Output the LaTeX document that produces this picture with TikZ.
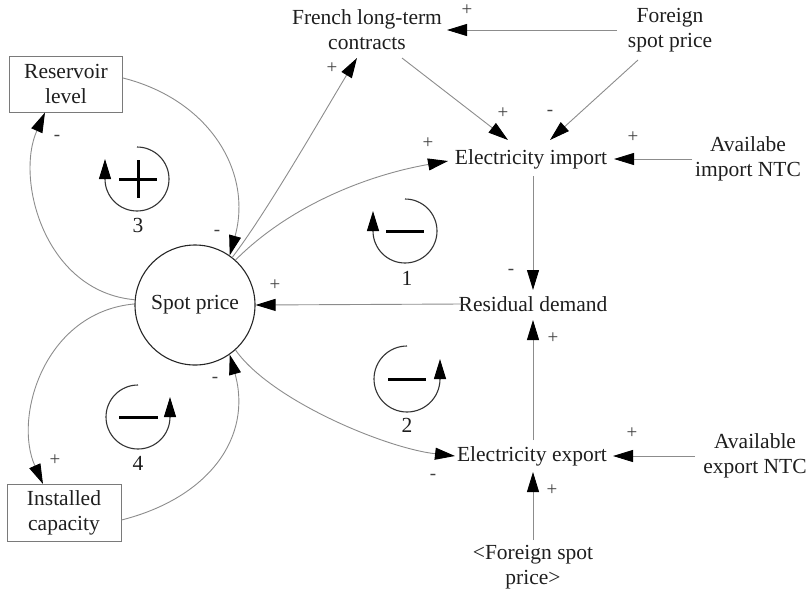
\documentclass[tikz,border=0pt]{standalone}
\usepackage{fontspec}
\setmainfont{Liberation Serif}
\usetikzlibrary{arrows.meta}
\definecolor{linegray}{HTML}{8C8C8C}
\definecolor{boxgray}{HTML}{7A7A7A}
\definecolor{ink}{HTML}{1E1E1E}
\begin{document}
\begin{tikzpicture}[x=1pt,y=-1pt,
  lbl/.style={font=\fontsize{21.5}{25}\selectfont, align=center, inner sep=0pt, text=ink},
  sgn/.style={font=\fontsize{19}{19}\selectfont, inner sep=0pt, text=black!75},
  boxnode/.style={lbl, draw=boxgray, line width=1pt},
  conn/.style={draw=linegray, line width=0.9pt, -{Triangle[length=20pt,width=12pt,color=black]}},
  loopc/.style={draw=black!80, line width=1.1pt, -{Triangle[length=20pt,width=12pt,color=black]}},
  bar/.style={draw=black, line width=3pt}]
\useasboundingbox (0,0) rectangle (810,592);

% nodes
\node[lbl, circle, draw=black!85, line width=1.1pt, minimum size=120pt] (sp) at (195,305) {Spot price};
\node[boxnode, minimum width=113pt, minimum height=56pt] (res) at (66,84) {Reservoir\\level};
\node[boxnode, minimum width=114pt, minimum height=57pt] (inst) at (64,513) {Installed\\capacity};
\node[lbl] (fr) at (367,30) {French long-term\\contracts};
\node[lbl] (fsp) at (670,30) {Foreign\\spot price};
\node[lbl] (ei) at (531,159) {Electricity import};
\node[lbl] (ain) at (748,159) {Availabe\\import NTC};
\node[lbl] (rd) at (533,304) {Residual demand};
\node[lbl] (ee) at (532,456) {Electricity export};
\node[lbl] (aen) at (755,456) {Available\\export NTC};
\node[lbl] (fsp2) at (533,567) {<Foreign spot\\price>};

% curved connectors around spot price
\draw[conn] ([yshift=6pt]res.east) .. controls +(87,22) and +(23,-83) .. (sp.55);
\draw[conn] (sp.175) .. controls +(-90,-8) and +(-30,67) .. ([xshift=-21pt]res.south);
\draw[conn] (sp.179) .. controls +(-90,8) and +(-30,-67) .. ([xshift=-21pt]inst.north);
\draw[conn] ([yshift=-7pt]inst.east) .. controls +(87,-22) and +(23,83) .. (sp.-55);
\draw[conn] (sp.52) .. controls +(34,-44) and +(-31,51) .. ([xshift=-10pt,yshift=-28pt]fr.center);
\draw[conn] (sp.48) .. controls +(55,-55) and +(-80,14) .. ([xshift=-83pt,yshift=-2pt]ei.center);
\draw[conn] ([xshift=-71pt]rd.center) -- (sp.east);
\draw[conn] (sp.-48) .. controls +(35,50) and +(-70,-8) .. ([xshift=-77pt]ee.center);

% straight connectors
\draw[conn] ([xshift=35pt,yshift=-28pt]fr.center) -- ([xshift=-23pt,yshift=19pt]ei.center);
\draw[conn] ([xshift=-32pt,yshift=-30pt]fsp.center) -- ([xshift=19pt,yshift=19pt]ei.center);
\draw[conn] ([xshift=-53pt]fsp.center) -- ([xshift=80pt]fr.center);
\draw[conn] ([xshift=-56pt]ain.center) -- ([xshift=83pt]ei.center);
\draw[conn] ([xshift=2pt,yshift=-17pt]ei.center) -- ([yshift=14pt]rd.center);
\draw[conn] ([xshift=1pt,yshift=16pt]ee.center) -- ([yshift=-16pt]rd.center);
\draw[conn] ([xshift=-60pt]aen.center) -- ([xshift=81pt]ee.center);
\draw[conn] ([yshift=27pt]fsp2.center) -- ([xshift=1pt,yshift=-16pt]ee.center);

% polarity signs
\node[sgn] (s1) at (217,233) {-};
\node[sgn] (s2) at (57,138) {-};
\node[sgn] (s3) at (55,460) {+};
\node[sgn] (s4) at (215,380) {-};
\node[sgn] (s5) at (332,68) {+};
\node[sgn] (s6) at (428,143) {+};
\node[sgn] (s7) at (275,285) {+};
\node[sgn] (s8) at (433,477) {-};
\node[sgn] (s9) at (503,113) {+};
\node[sgn] (s10) at (550,113) {-};
\node[sgn] (s11) at (467,10) {+};
\node[sgn] (s12) at (633,137) {+};
\node[sgn] (s13) at (511,272) {-};
\node[sgn] (s14) at (553,338) {+};
\node[sgn] (s15) at (632,433) {+};
\node[sgn] (s16) at (552,490) {+};

% loop symbols
\draw[loopc] (137,147) arc[start angle=-90, end angle=180, radius=32] -- ++(0,-20);
\draw[bar] (119,179) -- (157,179);
\draw[bar] (138,160) -- (138,198);
\node[lbl] (n3) at (138,225) {3};

\draw[loopc] (405,199) arc[start angle=-90, end angle=180, radius=32] -- ++(0,-20);
\draw[bar] (386,231) -- (424,231);
\node[lbl] (n1) at (407,278) {1};

\draw[loopc] (407,346) arc[start angle=270, end angle=0, radius=33] -- ++(0,-20);
\draw[bar] (388,379) -- (426,379);
\node[lbl] (n2) at (407,425) {2};

\draw[loopc] (138,385) arc[start angle=270, end angle=0, radius=32] -- ++(0,-20);
\draw[bar] (119,417) -- (158,417);
\node[lbl] (n4) at (138,463) {4};
\end{tikzpicture}
\end{document}
